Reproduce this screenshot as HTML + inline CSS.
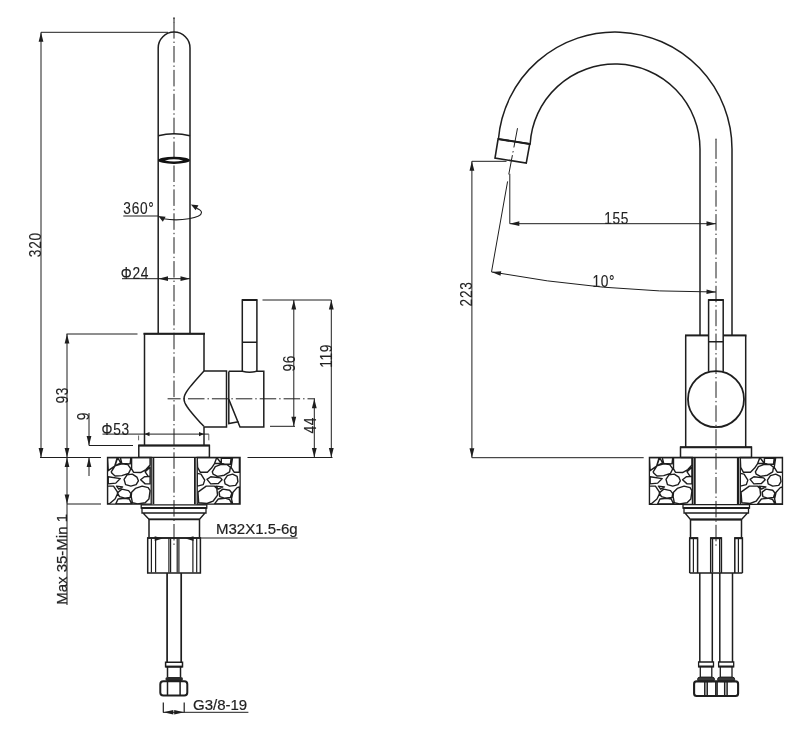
<!DOCTYPE html>
<html><head><meta charset="utf-8"><style>
html,body{margin:0;padding:0;background:#fff;}
svg{display:block;will-change:transform;font-family:"Liberation Sans",sans-serif;}
</style></head><body>
<svg width="800" height="730" viewBox="0 0 800 730">
<rect width="800" height="730" fill="#fff"/>
<line x1="174" y1="17.4" x2="174" y2="545.7" stroke="#1e1e1e" stroke-width="1.0" stroke-dasharray="16.5 3 1.4 3" stroke-dashoffset="19.2"/>
<line x1="174" y1="17.4" x2="174" y2="22.5" stroke="#1e1e1e" stroke-width="1.0" />
<line x1="41" y1="32.3" x2="168" y2="32.3" stroke="#1e1e1e" stroke-width="1.0" />
<line x1="41" y1="32.3" x2="41" y2="457.5" stroke="#1e1e1e" stroke-width="1.0" />
<path d="M41.00,32.30 L43.40,41.80 L38.60,41.80 Z" fill="#1e1e1e"/>
<path d="M41.00,457.50 L38.60,448.00 L43.40,448.00 Z" fill="#1e1e1e"/>
<text x="0" y="0" font-size="16" text-anchor="middle" letter-spacing="0.8" fill="#222" stroke="#222" stroke-width="0.12" transform="translate(41.1 245) rotate(-90) scale(0.86 1) translate(0.4 0)">320</text>
<path d="M158.2,333.5 V48 A15.9,15.9 0 0 1 190,48 V333.5" stroke="#1e1e1e" stroke-width="1.5" fill="none" />
<path d="M158.2,135.8 Q174,131.5 190,135.8" stroke="#1e1e1e" stroke-width="1.5" fill="none" />
<ellipse cx="174" cy="160.3" rx="15.9" ry="3.6" fill="#111"/>
<path d="M164.8,160.4 Q174,158.2 183.2,160.4 Q174,162.6 164.8,160.4 Z" fill="#fff"/>
<text x="0" y="0" font-size="16" text-anchor="start" letter-spacing="0.8" fill="#222" stroke="#222" stroke-width="0.12" transform="translate(123.3 213.6) scale(0.86 1)">360°</text>
<line x1="123.3" y1="216" x2="158.2" y2="216" stroke="#1e1e1e" stroke-width="1.0" />
<path d="M163.3,218.8 A25.5,7.25 0 0 0 201.5,212.5 A25.5,7.25 0 0 0 196.5,208.2" stroke="#1e1e1e" stroke-width="1.1" fill="none" />
<path d="M158.30,216.00 L165.65,216.77 L162.84,221.84 Z" fill="#1e1e1e"/>
<path d="M190.90,204.40 L198.44,205.14 L195.71,210.25 Z" fill="#1e1e1e"/>
<text x="0" y="0" font-size="16" text-anchor="start" letter-spacing="0.8" fill="#222" stroke="#222" stroke-width="0.12" transform="translate(120.8 279.2) scale(0.86 1)">Φ24</text>
<line x1="122" y1="278.7" x2="190" y2="278.7" stroke="#1e1e1e" stroke-width="1.0" />
<path d="M158.50,278.70 L168.00,276.30 L168.00,281.10 Z" fill="#1e1e1e"/>
<path d="M190.00,278.70 L180.50,281.10 L180.50,276.30 Z" fill="#1e1e1e"/>
<path d="M144.5,445.6 V333.8 H204 V371" stroke="#1e1e1e" stroke-width="1.5" fill="none" />
<line x1="143.5" y1="333.8" x2="205" y2="333.8" stroke="#1e1e1e" stroke-width="2.0" />
<path d="M204,427 V445.6" stroke="#1e1e1e" stroke-width="1.5" fill="none" />
<path d="M204,371 H226.5 V427 H204" stroke="#1e1e1e" stroke-width="1.5" fill="none" />
<path d="M203.99,371.00 L202.17,372.99 L200.36,374.97 L198.57,376.96 L196.80,378.94 L195.06,380.93 L193.35,382.91 L191.68,384.90 L190.07,386.89 L188.54,388.87 L187.13,390.86 L185.89,392.84 L184.89,394.83 L184.23,396.81 L184.00,398.80 L184.23,400.79 L184.89,402.77 L185.89,404.76 L187.13,406.74 L188.54,408.73 L190.07,410.71 L191.68,412.70 L193.35,414.69 L195.06,416.67 L196.80,418.66 L198.57,420.64 L200.36,422.63 L202.17,424.61 L203.99,426.60" stroke="#1e1e1e" stroke-width="1.5" fill="none" />
<path d="M228.8,371.5 V423.5 L238.5,421.8" stroke="#1e1e1e" stroke-width="1.5" fill="none" />
<path d="M228.8,399.4 L240,427 H263.8 V371.3 H256.6 Q249.5,373.2 242.4,371.3 H228.8" stroke="#1e1e1e" stroke-width="1.5" fill="none" />
<path d="M242.3,371.3 V300 H256.9 V371.3 M242.3,342.3 H256.9" stroke="#1e1e1e" stroke-width="1.5" fill="none" />
<line x1="242" y1="300" x2="257.2" y2="300" stroke="#1e1e1e" stroke-width="2.0" />
<line x1="167.6" y1="398.8" x2="315" y2="398.8" stroke="#1e1e1e" stroke-width="1.0" stroke-dasharray="16.5 3 1.4 3" stroke-dashoffset="3.5"/>
<line x1="262.5" y1="300" x2="331.3" y2="300" stroke="#1e1e1e" stroke-width="1.0" />
<line x1="293.8" y1="300" x2="293.8" y2="426.3" stroke="#1e1e1e" stroke-width="1.0" />
<path d="M293.80,300.00 L296.20,309.50 L291.40,309.50 Z" fill="#1e1e1e"/>
<path d="M293.80,426.30 L291.40,416.80 L296.20,416.80 Z" fill="#1e1e1e"/>
<line x1="270" y1="426.3" x2="295" y2="426.3" stroke="#1e1e1e" stroke-width="1.0" />
<line x1="331.3" y1="300" x2="331.3" y2="457.5" stroke="#1e1e1e" stroke-width="1.0" />
<path d="M331.30,300.00 L333.70,309.50 L328.90,309.50 Z" fill="#1e1e1e"/>
<path d="M331.30,457.50 L328.90,448.00 L333.70,448.00 Z" fill="#1e1e1e"/>
<line x1="314.3" y1="398.8" x2="314.3" y2="457.5" stroke="#1e1e1e" stroke-width="1.0" />
<path d="M314.30,398.80 L316.70,408.30 L311.90,408.30 Z" fill="#1e1e1e"/>
<path d="M314.30,457.50 L311.90,448.00 L316.70,448.00 Z" fill="#1e1e1e"/>
<line x1="247.5" y1="457.5" x2="332.5" y2="457.5" stroke="#1e1e1e" stroke-width="1.0" />
<text x="0" y="0" font-size="16" text-anchor="middle" letter-spacing="0.8" fill="#222" stroke="#222" stroke-width="0.12" transform="translate(294.6 363.6) rotate(-90) scale(0.86 1) translate(0.4 0)">96</text>
<text x="0" y="0" font-size="16" text-anchor="middle" letter-spacing="0.8" fill="#222" stroke="#222" stroke-width="0.12" transform="translate(331.8 356.2) rotate(-90) scale(0.86 1) translate(0.4 0)">119</text>
<text x="0" y="0" font-size="16" text-anchor="middle" letter-spacing="0.8" fill="#222" stroke="#222" stroke-width="0.12" transform="translate(315.5 425.6) rotate(-90) scale(0.86 1) translate(0.4 0)">44</text>
<line x1="66.5" y1="334" x2="137.5" y2="334" stroke="#1e1e1e" stroke-width="1.0" />
<line x1="67" y1="334" x2="67" y2="605" stroke="#1e1e1e" stroke-width="1.0" />
<path d="M67.00,334.00 L69.40,343.50 L64.60,343.50 Z" fill="#1e1e1e"/>
<path d="M67.00,457.50 L64.60,448.00 L69.40,448.00 Z" fill="#1e1e1e"/>
<text x="0" y="0" font-size="16" text-anchor="middle" letter-spacing="0.8" fill="#222" stroke="#222" stroke-width="0.12" transform="translate(67.5 395.5) rotate(-90) scale(0.86 1) translate(0.4 0)">93</text>
<path d="M67.00,457.50 L69.40,467.00 L64.60,467.00 Z" fill="#1e1e1e"/>
<path d="M67.00,504.00 L64.60,494.50 L69.40,494.50 Z" fill="#1e1e1e"/>
<line x1="67" y1="504" x2="101" y2="504" stroke="#1e1e1e" stroke-width="1.0" />
<line x1="40" y1="457.5" x2="101" y2="457.5" stroke="#1e1e1e" stroke-width="1.0" />
<text x="0" y="0" font-size="15" text-anchor="middle" letter-spacing="0" fill="#222" stroke="#222" stroke-width="0.2" transform="translate(66.5 559.4) rotate(-90)">Max 35-Min 1</text>
<line x1="89" y1="413" x2="89" y2="445.5" stroke="#1e1e1e" stroke-width="1.0" />
<path d="M89.00,445.50 L86.60,436.00 L91.40,436.00 Z" fill="#1e1e1e"/>
<line x1="89" y1="445.5" x2="133" y2="445.5" stroke="#1e1e1e" stroke-width="1.0" />
<line x1="89" y1="457.5" x2="89" y2="476" stroke="#1e1e1e" stroke-width="1.0" />
<path d="M89.00,457.50 L91.40,467.00 L86.60,467.00 Z" fill="#1e1e1e"/>
<text x="0" y="0" font-size="16" text-anchor="middle" letter-spacing="0.8" fill="#222" stroke="#222" stroke-width="0.12" transform="translate(89 416.5) rotate(-90) scale(0.86 1) translate(0.4 0)">9</text>
<text x="0" y="0" font-size="16" text-anchor="start" letter-spacing="0.8" fill="#222" stroke="#222" stroke-width="0.12" transform="translate(101.5 435.3) scale(0.86 1)">Φ53</text>
<line x1="102.5" y1="434.1" x2="208.8" y2="434.1" stroke="#1e1e1e" stroke-width="1.0" />
<path d="M144.50,434.10 L149.50,431.90 L149.50,436.30 Z" fill="#1e1e1e"/>
<path d="M204.00,434.10 L199.00,436.30 L199.00,431.90 Z" fill="#1e1e1e"/>
<line x1="138.6" y1="435.5" x2="138.6" y2="440.3" stroke="#555" stroke-width="0.9" />
<line x1="208.8" y1="434.1" x2="208.8" y2="440.3" stroke="#555" stroke-width="0.9" />
<path d="M138.8,457.5 V445.6 H209.4 V457.5" stroke="#1e1e1e" stroke-width="1.5" fill="none" />
<line x1="138.3" y1="445.6" x2="209.9" y2="445.6" stroke="#1e1e1e" stroke-width="2.0" />
<line x1="138.8" y1="457.4" x2="209.6" y2="457.4" stroke="#1e1e1e" stroke-width="1.3" />
<clipPath id="cb1"><rect x="107.5" y="457.5" width="43.69999999999999" height="46.69999999999999"/></clipPath>
<path d="M107.50,457.50 L117.30,457.50 L114.66,466.17 L108.25,470.69 Z M117.67,457.50 L120.69,462.78 L115.04,465.79 Z M120.31,457.50 L130.86,457.50 L130.11,463.91 L121.82,463.53 Z M111.27,471.82 L115.04,465.79 L121.82,463.91 L127.85,464.66 L130.86,468.80 L128.60,473.33 L121.82,475.59 L115.04,475.96 L112.02,473.33 Z M131.61,457.50 L150.08,457.50 L150.08,465.04 L145.93,469.56 L140.66,472.57 L133.50,472.19 L131.61,468.80 Z M145.18,471.82 L150.08,467.30 L150.08,476.34 L148.19,476.34 Z M140.66,479.73 L144.43,476.72 L150.08,476.34 L150.08,483.88 L145.18,483.88 Z M124.08,479.35 L127.09,474.83 L132.37,474.08 L136.89,477.09 L138.40,480.86 L136.14,484.63 L130.86,486.14 L125.59,484.63 Z M108.25,476.72 L120.31,478.60 L115.79,483.12 L108.25,483.88 Z M116.54,486.14 L122.57,486.89 L118.80,489.15 Z M107.50,486.14 L113.53,486.14 L118.05,492.92 L115.04,498.95 L109.76,503.47 L107.50,503.85 Z M117.30,492.92 L121.82,489.15 L128.60,490.66 L130.86,493.67 L130.11,497.44 L124.83,498.19 L119.56,496.69 Z M115.79,503.85 L118.05,498.95 L124.83,498.19 L129.35,498.95 L131.61,503.85 Z M131.61,492.16 L135.38,488.40 L142.16,486.14 L148.19,487.64 L150.08,490.66 L148.95,498.95 L145.18,502.71 L137.64,503.85 L132.37,502.71 L131.24,496.69 Z " fill="none" stroke="#1e1e1e" stroke-width="1.4" stroke-linejoin="round" clip-path="url(#cb1)"/>
<clipPath id="cb2"><rect x="197.2" y="457.5" width="42.900000000000006" height="46.69999999999999"/></clipPath>
<path d="M197.20,457.50 L216.79,457.50 L214.53,463.53 L211.52,468.05 L207.37,472.19 L200.21,472.19 L197.58,467.30 Z M221.31,458.25 L231.11,458.25 L230.36,464.28 L224.33,463.91 L221.31,463.53 Z M216.79,457.50 L221.31,463.53 L214.53,463.53 Z M212.27,471.82 L215.29,466.54 L220.56,464.66 L226.59,464.28 L230.36,467.30 L229.60,471.82 L224.33,475.21 L217.55,476.34 L213.03,474.08 Z M232.62,457.50 L239.40,457.50 L239.40,472.19 L234.13,472.19 L231.11,467.30 Z M197.20,473.33 L200.97,474.08 L204.74,480.11 L203.23,484.63 L197.20,486.14 Z M207.00,479.35 L210.76,476.72 L220.56,477.85 L222.07,479.73 L218.30,483.50 L210.76,483.88 Z M224.33,480.11 L227.34,475.59 L232.62,474.08 L237.14,476.34 L237.89,481.61 L235.63,485.38 L229.60,486.14 L225.08,483.88 Z M216.04,486.14 L222.82,486.89 L218.30,489.15 Z M197.95,492.16 L206.24,486.14 L214.53,486.14 L216.79,488.40 L217.55,495.18 L213.03,501.21 L207.00,503.47 L198.71,502.71 Z M219.05,492.16 L222.82,489.15 L229.60,490.28 L231.86,492.92 L230.36,497.44 L224.33,498.19 L219.81,496.69 Z M214.53,503.85 L218.30,498.95 L225.08,498.19 L229.60,499.70 L231.86,503.85 Z M233.00,492.16 L237.14,487.64 L239.40,486.89 L239.40,503.85 L232.62,503.85 L231.49,498.95 Z " fill="none" stroke="#1e1e1e" stroke-width="1.4" stroke-linejoin="round" clip-path="url(#cb2)"/>
<path d="M107.5,457.5 H151.2 V504.2 H107.5 Z" stroke="#1e1e1e" stroke-width="1.3" fill="none" />
<path d="M197.2,457.5 H240.1 V504.2 H197.2 Z" stroke="#1e1e1e" stroke-width="1.3" fill="none" />
<line x1="153.4" y1="457.5" x2="153.4" y2="504.2" stroke="#1e1e1e" stroke-width="1.8" />
<line x1="194.9" y1="457.5" x2="194.9" y2="504.2" stroke="#1e1e1e" stroke-width="1.8" />
<path d="M141.2,504.8 H206.8 V508 H141.2 Z M142,508 V513 H206 V508 M143,513 L149,519.3 H199.5 L205,513" stroke="#1e1e1e" stroke-width="1.3" fill="none" />
<line x1="141.2" y1="508.1" x2="206.8" y2="508.1" stroke="#1e1e1e" stroke-width="2.0" />
<line x1="149" y1="519.3" x2="199.5" y2="519.3" stroke="#1e1e1e" stroke-width="1.8" />
<path d="M149,519.3 V537.5 M199.5,519.3 V537.5" stroke="#1e1e1e" stroke-width="1.5" fill="none" />
<path d="M147.7,537.9 H200.4 V573 H147.7 Z" stroke="#1e1e1e" stroke-width="1.5" fill="none" />
<line x1="147.2" y1="538" x2="200.9" y2="538" stroke="#1e1e1e" stroke-width="1.3" />
<line x1="151.4" y1="538.5" x2="151.4" y2="572.5" stroke="#1e1e1e" stroke-width="1.2" />
<line x1="155.6" y1="538.5" x2="155.6" y2="572.5" stroke="#1e1e1e" stroke-width="1.2" />
<line x1="168.9" y1="538.5" x2="168.9" y2="572.5" stroke="#1e1e1e" stroke-width="1.2" />
<line x1="170.6" y1="538.5" x2="170.6" y2="572.5" stroke="#1e1e1e" stroke-width="1.2" />
<line x1="177.2" y1="538.5" x2="177.2" y2="572.5" stroke="#1e1e1e" stroke-width="1.2" />
<line x1="178.9" y1="538.5" x2="178.9" y2="572.5" stroke="#1e1e1e" stroke-width="1.2" />
<line x1="192.9" y1="538.5" x2="192.9" y2="572.5" stroke="#1e1e1e" stroke-width="1.2" />
<line x1="196.7" y1="538.5" x2="196.7" y2="572.5" stroke="#1e1e1e" stroke-width="1.2" />
<path d="M162.70,538.60 L154.70,540.90 L154.70,536.30 Z" fill="#1e1e1e"/>
<path d="M185.50,538.60 L193.50,536.30 L193.50,540.90 Z" fill="#1e1e1e"/>
<text x="0" y="0" font-size="15" text-anchor="start" letter-spacing="0" fill="#222" stroke="#222" stroke-width="0.2" transform="translate(216 534.1)">M32X1.5-6g</text>
<line x1="200.5" y1="538" x2="297.5" y2="538" stroke="#1e1e1e" stroke-width="1.0" />
<path d="M167.1,573 V662.3 M181.2,573 V662.3" stroke="#1e1e1e" stroke-width="1.7" fill="none" />
<path d="M165.6,662.3 H182.5 V666.8 H165.6 Z" stroke="#1e1e1e" stroke-width="1.5" fill="none" />
<line x1="165.6" y1="666.6" x2="182.5" y2="666.6" stroke="#1e1e1e" stroke-width="2.0" />
<path d="M167.5,666.8 V677 M180.5,666.8 V677" stroke="#1e1e1e" stroke-width="1.5" fill="none" />
<path d="M167.5,680.9 Q165.4,680.9 165.4,678.9 Q165.4,676.9 167.5,676.9 H180.9 Q183,676.9 183,678.9 Q183,680.9 180.9,680.9 Z" fill="#2a2a2a"/>
<rect x="160.3" y="681.2" width="27" height="14.3" rx="3" fill="none" stroke="#1e1e1e" stroke-width="2"/>
<line x1="167.5" y1="681.5" x2="167.5" y2="695.3" stroke="#1e1e1e" stroke-width="1.5" />
<line x1="180.1" y1="681.5" x2="180.1" y2="695.3" stroke="#1e1e1e" stroke-width="1.5" />
<path d="M163.3,702.5 V712.5 M184.2,702.5 V712.5" stroke="#1e1e1e" stroke-width="1.2" fill="none" />
<line x1="163" y1="712.3" x2="248.4" y2="712.3" stroke="#1e1e1e" stroke-width="1.0" />
<path d="M163.30,712.30 L173.30,710.10 L173.30,714.50 Z" fill="#1e1e1e"/>
<path d="M184.20,712.30 L174.20,714.50 L174.20,710.10 Z" fill="#1e1e1e"/>
<text x="0" y="0" font-size="15" text-anchor="start" letter-spacing="0" fill="#222" stroke="#222" stroke-width="0.2" transform="translate(193 710.4)">G3/8-19</text>
<path d="M498.1,139 L498.43,139 A117,117 0 0 1 732,149 V335.4" stroke="#1e1e1e" stroke-width="1.5" fill="none" />
<path d="M529.75,144 L530.15,144 A85,85 0 0 1 700,149 V335.4" stroke="#1e1e1e" stroke-width="1.5" fill="none" />
<path d="M498.1,139 L529.75,144 L526.25,163.1 L495,158.1 Z" stroke="#1e1e1e" stroke-width="1.6" fill="none" />
<line x1="498.1" y1="139" x2="529.75" y2="144" stroke="#1e1e1e" stroke-width="2.0" />
<line x1="517.5" y1="128.2" x2="508.7" y2="174.8" stroke="#1e1e1e" stroke-width="1.0" stroke-dasharray="19.6 3.7 1.4 2.7"/>
<line x1="471.9" y1="161.3" x2="506.5" y2="161.3" stroke="#1e1e1e" stroke-width="1.0" />
<line x1="471.9" y1="161.3" x2="471.9" y2="457.7" stroke="#1e1e1e" stroke-width="1.0" />
<path d="M471.90,161.30 L474.30,170.80 L469.50,170.80 Z" fill="#1e1e1e"/>
<path d="M471.90,457.70 L469.50,448.20 L474.30,448.20 Z" fill="#1e1e1e"/>
<line x1="471.9" y1="457.7" x2="643.7" y2="457.7" stroke="#1e1e1e" stroke-width="1.0" />
<text x="0" y="0" font-size="16" text-anchor="middle" letter-spacing="0.8" fill="#222" stroke="#222" stroke-width="0.12" transform="translate(472.4 294.3) rotate(-90) scale(0.86 1) translate(0.4 0)">223</text>
<line x1="509.8" y1="173.8" x2="509.8" y2="223.7" stroke="#1e1e1e" stroke-width="1.0" />
<line x1="509.8" y1="223.7" x2="716" y2="223.7" stroke="#1e1e1e" stroke-width="1.0" />
<path d="M509.80,223.70 L519.30,221.30 L519.30,226.10 Z" fill="#1e1e1e"/>
<path d="M716.00,223.70 L706.50,226.10 L706.50,221.30 Z" fill="#1e1e1e"/>
<text x="0" y="0" font-size="16" text-anchor="middle" letter-spacing="0.8" fill="#222" stroke="#222" stroke-width="0.12" transform="translate(616.3 224) scale(0.86 1) translate(0.4 0)">155</text>
<line x1="507.6" y1="181.4" x2="491.5" y2="271.9" stroke="#1e1e1e" stroke-width="1.0" />
<path d="M491.5,271.9 A1214,1214 0 0 0 716,292" stroke="#1e1e1e" stroke-width="1.0" fill="none" />
<path d="M491.50,271.90 L501.23,271.32 L500.50,275.66 Z" fill="#1e1e1e"/>
<path d="M716.00,292.00 L706.46,294.01 L706.55,289.61 Z" fill="#1e1e1e"/>
<text x="0" y="0" font-size="16" text-anchor="middle" letter-spacing="0.8" fill="#222" stroke="#222" stroke-width="0.12" transform="translate(603.5 287) scale(0.86 1) translate(0.4 0)">10°</text>
<line x1="716" y1="138.8" x2="716" y2="545.7" stroke="#1e1e1e" stroke-width="1.0" stroke-dasharray="16.5 3 1.4 3" stroke-dashoffset="20.3"/>
<line x1="716" y1="138.8" x2="716" y2="142.6" stroke="#1e1e1e" stroke-width="1.0" />
<path d="M685.7,447.2 V335.4 M745.7,335.4 V447.2" stroke="#1e1e1e" stroke-width="1.5" fill="none" />
<line x1="685" y1="335.4" x2="708.6" y2="335.4" stroke="#1e1e1e" stroke-width="2.0" />
<line x1="723.2" y1="335.4" x2="746.5" y2="335.4" stroke="#1e1e1e" stroke-width="2.0" />
<path d="M708.6,371.7 V300 H723.2 V371.7 M708.6,341.7 H723.2" stroke="#1e1e1e" stroke-width="1.5" fill="none" />
<line x1="708.2" y1="300" x2="723.6" y2="300" stroke="#1e1e1e" stroke-width="2.0" />
<circle cx="716" cy="399.2" r="28" fill="none" stroke="#1e1e1e" stroke-width="1.8"/>
<path d="M680.5,457.5 V447.2 H751.5 V457.5" stroke="#1e1e1e" stroke-width="1.5" fill="none" />
<line x1="680" y1="447.2" x2="752" y2="447.2" stroke="#1e1e1e" stroke-width="2.0" />
<line x1="680.5" y1="457.5" x2="751.5" y2="457.5" stroke="#1e1e1e" stroke-width="1.3" />
<clipPath id="cb3"><rect x="649.4" y="457.5" width="43.0" height="46.89999999999998"/></clipPath>
<path d="M649.40,457.50 L659.20,457.50 L656.56,466.17 L650.15,470.69 Z M659.57,457.50 L662.59,462.78 L656.94,465.79 Z M662.21,457.50 L672.76,457.50 L672.01,463.91 L663.72,463.53 Z M653.17,471.82 L656.94,465.79 L663.72,463.91 L669.75,464.66 L672.76,468.80 L670.50,473.33 L663.72,475.59 L656.94,475.96 L653.92,473.33 Z M673.51,457.50 L691.98,457.50 L691.98,465.04 L687.83,469.56 L682.56,472.57 L675.40,472.19 L673.51,468.80 Z M687.08,471.82 L691.98,467.30 L691.98,476.34 L690.09,476.34 Z M682.56,479.73 L686.33,476.72 L691.98,476.34 L691.98,483.88 L687.08,483.88 Z M665.98,479.35 L668.99,474.83 L674.27,474.08 L678.79,477.09 L680.30,480.86 L678.04,484.63 L672.76,486.14 L667.49,484.63 Z M650.15,476.72 L662.21,478.60 L657.69,483.12 L650.15,483.88 Z M658.44,486.14 L664.47,486.89 L660.70,489.15 Z M649.40,486.14 L655.43,486.14 L659.95,492.92 L656.94,498.95 L651.66,503.47 L649.40,503.85 Z M659.20,492.92 L663.72,489.15 L670.50,490.66 L672.76,493.67 L672.01,497.44 L666.73,498.19 L661.46,496.69 Z M657.69,503.85 L659.95,498.95 L666.73,498.19 L671.25,498.95 L673.51,503.85 Z M673.51,492.16 L677.28,488.40 L684.06,486.14 L690.09,487.64 L691.98,490.66 L690.85,498.95 L687.08,502.71 L679.54,503.85 L674.27,502.71 L673.14,496.69 Z " fill="none" stroke="#1e1e1e" stroke-width="1.4" stroke-linejoin="round" clip-path="url(#cb3)"/>
<clipPath id="cb4"><rect x="740.3" y="457.5" width="42.200000000000045" height="46.89999999999998"/></clipPath>
<path d="M740.30,457.50 L759.89,457.50 L757.63,463.53 L754.62,468.05 L750.47,472.19 L743.31,472.19 L740.68,467.30 Z M764.41,458.25 L774.21,458.25 L773.46,464.28 L767.43,463.91 L764.41,463.53 Z M759.89,457.50 L764.41,463.53 L757.63,463.53 Z M755.37,471.82 L758.39,466.54 L763.66,464.66 L769.69,464.28 L773.46,467.30 L772.70,471.82 L767.43,475.21 L760.65,476.34 L756.13,474.08 Z M775.72,457.50 L782.50,457.50 L782.50,472.19 L777.23,472.19 L774.21,467.30 Z M740.30,473.33 L744.07,474.08 L747.84,480.11 L746.33,484.63 L740.30,486.14 Z M750.10,479.35 L753.86,476.72 L763.66,477.85 L765.17,479.73 L761.40,483.50 L753.86,483.88 Z M767.43,480.11 L770.44,475.59 L775.72,474.08 L780.24,476.34 L780.99,481.61 L778.73,485.38 L772.70,486.14 L768.18,483.88 Z M759.14,486.14 L765.92,486.89 L761.40,489.15 Z M741.05,492.16 L749.34,486.14 L757.63,486.14 L759.89,488.40 L760.65,495.18 L756.13,501.21 L750.10,503.47 L741.81,502.71 Z M762.15,492.16 L765.92,489.15 L772.70,490.28 L774.96,492.92 L773.46,497.44 L767.43,498.19 L762.91,496.69 Z M757.63,503.85 L761.40,498.95 L768.18,498.19 L772.70,499.70 L774.96,503.85 Z M776.10,492.16 L780.24,487.64 L782.50,486.89 L782.50,503.85 L775.72,503.85 L774.59,498.95 Z " fill="none" stroke="#1e1e1e" stroke-width="1.4" stroke-linejoin="round" clip-path="url(#cb4)"/>
<path d="M649.4,457.5 H692.4 V504.4 H649.4 Z" stroke="#1e1e1e" stroke-width="1.3" fill="none" />
<path d="M740.3,457.5 H782.5 V504.4 H740.3 Z" stroke="#1e1e1e" stroke-width="1.3" fill="none" />
<line x1="694.6" y1="457.2" x2="694.6" y2="504.4" stroke="#1e1e1e" stroke-width="2.2" />
<line x1="738" y1="457.2" x2="738" y2="504.4" stroke="#1e1e1e" stroke-width="2.2" />
<path d="M683,504.7 H749.5 V508 H683 Z M684,508 V513 H748.5 V508 M685,513 L690.5,519.5 H741.5 L747.5,513" stroke="#1e1e1e" stroke-width="1.3" fill="none" />
<line x1="683" y1="508.1" x2="749.5" y2="508.1" stroke="#1e1e1e" stroke-width="2.0" />
<line x1="690.5" y1="519.5" x2="741.5" y2="519.5" stroke="#1e1e1e" stroke-width="1.8" />
<path d="M690.5,519.5 V537.7 M741.5,519.5 V537.7" stroke="#1e1e1e" stroke-width="1.5" fill="none" />
<path d="M689.7,573 V537.9 H697.6 V573" stroke="#1e1e1e" stroke-width="1.5" fill="none" />
<line x1="689.4000000000001" y1="538.2" x2="697.9" y2="538.2" stroke="#1e1e1e" stroke-width="2.0" />
<path d="M710.7,573 V537.9 H721.4 V573" stroke="#1e1e1e" stroke-width="1.5" fill="none" />
<line x1="710.4000000000001" y1="538.2" x2="721.6999999999999" y2="538.2" stroke="#1e1e1e" stroke-width="2.0" />
<path d="M734.8,573 V537.9 H742.4 V573" stroke="#1e1e1e" stroke-width="1.5" fill="none" />
<line x1="734.5" y1="538.2" x2="742.6999999999999" y2="538.2" stroke="#1e1e1e" stroke-width="2.0" />
<line x1="693.4" y1="538.5" x2="693.4" y2="572.5" stroke="#1e1e1e" stroke-width="1.2" />
<line x1="712.6" y1="538.5" x2="712.6" y2="572.5" stroke="#1e1e1e" stroke-width="1.2" />
<line x1="719.6" y1="538.5" x2="719.6" y2="572.5" stroke="#1e1e1e" stroke-width="1.2" />
<line x1="738.4" y1="538.5" x2="738.4" y2="572.5" stroke="#1e1e1e" stroke-width="1.2" />
<line x1="689.7" y1="573" x2="742.4" y2="573" stroke="#1e1e1e" stroke-width="1.5" />
<path d="M699.8,573 V662 M712.3,573 V662" stroke="#1e1e1e" stroke-width="1.5" fill="none" />
<path d="M698.5999999999999,662 H713.5 V666.9 H698.5999999999999 Z" stroke="#1e1e1e" stroke-width="1.3" fill="none" />
<line x1="698.5999999999999" y1="666.4" x2="713.5" y2="666.4" stroke="#1e1e1e" stroke-width="1.8" />
<path d="M700.3,666.9 V677 M711.8,666.9 V677" stroke="#1e1e1e" stroke-width="1.3" fill="none" />
<path d="M700.3,681.6 Q697.5999999999999,681.6 697.5999999999999,679.3 Q697.5999999999999,677.1 700.3,677.1 H711.8 Q714.5,677.1 714.5,679.3 Q714.5,681.6 711.8,681.6 Z" fill="#3a3a3a" stroke="#1e1e1e" stroke-width="1"/>
<path d="M719.8,573 V662 M732.5,573 V662" stroke="#1e1e1e" stroke-width="1.5" fill="none" />
<path d="M718.5999999999999,662 H733.7 V666.9 H718.5999999999999 Z" stroke="#1e1e1e" stroke-width="1.3" fill="none" />
<line x1="718.5999999999999" y1="666.4" x2="733.7" y2="666.4" stroke="#1e1e1e" stroke-width="1.8" />
<path d="M720.3,666.9 V677 M732.0,666.9 V677" stroke="#1e1e1e" stroke-width="1.3" fill="none" />
<path d="M720.3,681.6 Q717.5999999999999,681.6 717.5999999999999,679.3 Q717.5999999999999,677.1 720.3,677.1 H732.0 Q734.7,677.1 734.7,679.3 Q734.7,681.6 732.0,681.6 Z" fill="#3a3a3a" stroke="#1e1e1e" stroke-width="1"/>
<rect x="694.1" y="681.4" width="44" height="14.6" rx="2.5" fill="none" stroke="#1e1e1e" stroke-width="2.1"/>
<line x1="704.8" y1="682" x2="704.8" y2="695.5" stroke="#1e1e1e" stroke-width="1.5" />
<line x1="707.2" y1="682" x2="707.2" y2="695.5" stroke="#1e1e1e" stroke-width="1.5" />
<line x1="715.8" y1="682" x2="715.8" y2="695.5" stroke="#1e1e1e" stroke-width="1.5" />
<line x1="717.1" y1="682" x2="717.1" y2="695.5" stroke="#1e1e1e" stroke-width="1.5" />
<line x1="724.7" y1="682" x2="724.7" y2="695.5" stroke="#1e1e1e" stroke-width="1.5" />
<line x1="727.1" y1="682" x2="727.1" y2="695.5" stroke="#1e1e1e" stroke-width="1.5" />
</svg></body></html>
